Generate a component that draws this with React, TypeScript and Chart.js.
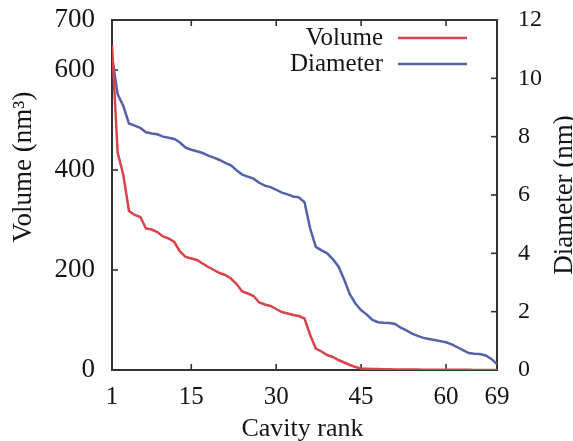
import React, { useEffect, useRef } from "react";
import { Chart, registerables } from "chart.js";

Chart.register(...registerables);

const X_TICKS = [1, 15, 30, 45, 60, 69];
const VOLUME_TICKS = [0, 200, 400, 600, 700];
const DIAMETER_TICKS = [0, 2, 4, 6, 8, 10, 12];
const SERIES_LABELS = ["Volume", "Diameter"];

// Volume (nm^3) by cavity rank 1..69
const VOLUME = [
  650, 435, 390, 318, 310, 306, 283, 281, 276, 267,
  263, 256, 237, 226, 223, 220, 213, 206, 200, 194,
  190, 183, 172, 157, 153, 148, 135, 131, 128, 122,
  116, 113, 110, 108, 103, 70, 43, 37, 30, 26,
  20, 15, 10, 6, 3, 2.5, 2, 2, 1.5, 1.5,
  1.2, 1, 1, 0.8, 0.8, 0.6, 0.6, 0.5, 0.5, 0.4,
  0.4, 0.3, 0.3, 0.3, 0.2, 0.2, 0.2, 0.1, 0.1,
];

// Diameter (nm) by cavity rank 1..69
const DIAMETER = [
  10.75, 9.45, 9.05, 8.45, 8.38, 8.3, 8.15, 8.11, 8.08, 8.0,
  7.96, 7.92, 7.8, 7.62, 7.55, 7.5, 7.44, 7.35, 7.28, 7.2,
  7.1, 7.02, 6.85, 6.7, 6.63, 6.56, 6.42, 6.32, 6.27, 6.18,
  6.08, 6.02, 5.95, 5.92, 5.75, 4.85, 4.22, 4.1, 4.0, 3.8,
  3.55, 3.1, 2.6, 2.28, 2.05, 1.9, 1.72, 1.64, 1.62, 1.61,
  1.58, 1.45, 1.36, 1.25, 1.17, 1.1, 1.06, 1.03, 0.99, 0.95,
  0.88, 0.78, 0.68, 0.58, 0.56, 0.55, 0.5, 0.38, 0.2,
];

const FONT = "'Liberation Serif', 'DejaVu Serif', serif";
const RED = "#d9434c";
const BLUE = "#5561a8";
const FRAME = "#333333";
const TEXT = "#151515";

const decorPlugin = {
  id: "decor",
  beforeDatasetsDraw(chart: any) {
    const { ctx, chartArea, scales } = chart;
    const { left, right, top, bottom } = chartArea;
    ctx.save();
    ctx.strokeStyle = FRAME;
    ctx.lineWidth = 2;
    ctx.strokeRect(left, top, right - left, bottom - top);
    ctx.lineWidth = 1.6;
    const tl = 6;
    const seg = (x1: number, y1: number, x2: number, y2: number) => {
      ctx.beginPath();
      ctx.moveTo(x1, y1);
      ctx.lineTo(x2, y2);
      ctx.stroke();
    };
    for (const v of X_TICKS) {
      if (v === 1 || v === 69) continue;
      const px = scales.x.getPixelForValue(v);
      seg(px, bottom, px, bottom - tl);
      seg(px, top, px, top + tl);
    }
    for (const v of VOLUME_TICKS) {
      if (v === 0 || v === 700) continue;
      const py = scales.y.getPixelForValue(v);
      seg(left, py, left + tl, py);
    }
    for (const v of DIAMETER_TICKS) {
      if (v === 0 || v === 12) continue;
      const py = scales.y1.getPixelForValue(v);
      seg(right, py, right - tl, py);
    }
    ctx.restore();
  },
  afterDraw(chart: any) {
    const { ctx, chartArea } = chart;
    const { left, right } = chartArea;
    ctx.save();
    ctx.fillStyle = TEXT;
    // x title
    ctx.font = `26px ${FONT}`;
    ctx.textAlign = "center";
    ctx.textBaseline = "alphabetic";
    ctx.fillText("Cavity rank", (left + right) / 2 - 2, 436);
    // left title
    ctx.save();
    ctx.font = `27px ${FONT}`;
    ctx.translate(31, 167);
    ctx.rotate(-Math.PI / 2);
    ctx.fillText("Volume (nm³)", 0, 0);
    ctx.restore();
    // right title
    ctx.save();
    ctx.font = `27px ${FONT}`;
    ctx.translate(572, 195);
    ctx.rotate(-Math.PI / 2);
    ctx.fillText("Diameter (nm)", 0, 0);
    ctx.restore();
    // legend
    ctx.font = `25px ${FONT}`;
    ctx.textAlign = "right";
    ctx.textBaseline = "middle";
    const ys = [38, 64];
    chart.data.datasets.forEach((ds: any, i: number) => {
      ctx.fillStyle = TEXT;
      ctx.fillText(ds.label, 383, ys[i]);
      ctx.strokeStyle = ds.borderColor;
      ctx.lineWidth = 2.5;
      ctx.beginPath();
      ctx.moveTo(398, ys[i]);
      ctx.lineTo(467, ys[i]);
      ctx.stroke();
    });
    ctx.restore();
  },
};

const noPad = (s: any) => {
  s.paddingTop = 0;
  s.paddingBottom = 0;
  s.paddingLeft = 0;
  s.paddingRight = 0;
};

export default function App() {
  const canvasRef = useRef<HTMLCanvasElement | null>(null);

  useEffect(() => {
    if (!canvasRef.current) return;
    const chart = new Chart(canvasRef.current, {
      type: "line",
      data: {
        datasets: [
          {
            label: SERIES_LABELS[0],
            data: VOLUME.map((v, i) => ({ x: i + 1, y: v })),
            borderColor: RED,
            borderWidth: 2.5,
            pointRadius: 0,
            tension: 0,
            yAxisID: "y",
          },
          {
            label: SERIES_LABELS[1],
            data: DIAMETER.map((v, i) => ({ x: i + 1, y: v })),
            borderColor: BLUE,
            borderWidth: 2.5,
            pointRadius: 0,
            tension: 0,
            yAxisID: "y1",
          },
        ],
      },
      options: {
        responsive: false,
        animation: false,
        layout: { padding: { top: 20, left: 0, right: 0, bottom: 0 } },
        plugins: { legend: { display: false }, tooltip: { enabled: false } },
        scales: {
          x: {
            type: "linear",
            min: 1,
            max: 69,
            grid: { display: false, drawTicks: false },
            border: { display: false },
            afterBuildTicks: (s: any) => {
              s.ticks = X_TICKS.map((v) => ({ value: v }));
            },
            afterFit: (s: any) => {
              noPad(s);
              s.height = 71;
            },
            ticks: {
              autoSkip: false,
              maxRotation: 0,
              padding: 12,
              color: TEXT,
              font: { family: FONT, size: 25 },
            },
          },
          y: {
            type: "linear",
            position: "left",
            min: 0,
            max: 700,
            grid: { display: false, drawTicks: false },
            border: { display: false },
            afterBuildTicks: (s: any) => {
              s.ticks = VOLUME_TICKS.map((v) => ({ value: v }));
            },
            afterFit: (s: any) => {
              noPad(s);
              s.width = 112;
            },
            ticks: {
              padding: 17,
              color: TEXT,
              font: { family: FONT, size: 27 },
            },
          },
          y1: {
            type: "linear",
            position: "right",
            min: 0,
            max: 12,
            grid: { display: false, drawTicks: false },
            border: { display: false },
            afterBuildTicks: (s: any) => {
              s.ticks = DIAMETER_TICKS.map((v) => ({ value: v }));
            },
            afterFit: (s: any) => {
              noPad(s);
              s.width = 76;
            },
            ticks: {
              padding: 21,
              color: TEXT,
              font: { family: FONT, size: 24 },
            },
          },
        },
      },
      plugins: [decorPlugin],
    });
    return () => chart.destroy();
  }, []);

  return (
    <div style={{ position: "fixed", left: 0, top: 0, width: 573, height: 441, background: "#fff" }}>
      <canvas ref={canvasRef} width={573} height={441} style={{ width: 573, height: 441 }} />
    </div>
  );
}
